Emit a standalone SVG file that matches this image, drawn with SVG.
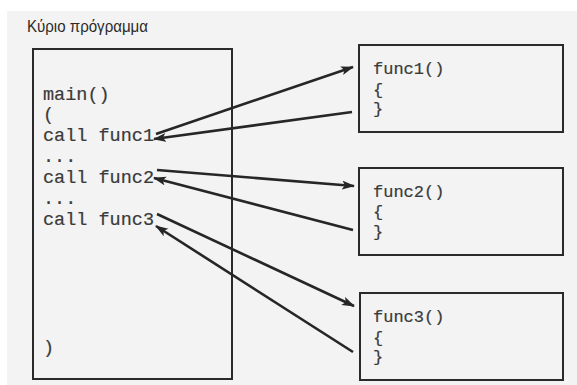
<svg xmlns="http://www.w3.org/2000/svg" width="577" height="385" viewBox="0 0 577 385">
  <style>
    .box { fill: none; stroke: #2a2a2a; stroke-width: 2; }
    .code { font-family: "Liberation Mono", "Courier New", monospace; fill: #3a3a3a; stroke: #3a3a3a; stroke-width: 0.2; }
    .main { font-size: 18.5px; }
    .fn { font-size: 17px; }
    .title { font-family: "Liberation Sans", Arial, sans-serif; font-size: 16.5px; fill: #2a2a2a; }
    .conn { stroke: #262626; stroke-width: 2.6; fill: none; marker-end: url(#head); }
  </style>
  <defs>
    <marker id="head" markerUnits="userSpaceOnUse" markerWidth="14" markerHeight="10" refX="12" refY="4.5" orient="auto">
      <path d="M0,0 L13,4.5 L0,9 L3,4.5 z" fill="#262626"/>
    </marker>
  </defs>

  <!-- page background -->
  <rect x="0" y="0" width="577" height="385" fill="#ffffff"/>
  <rect x="7" y="11" width="570" height="374" fill="#f3f3f3"/>

  <text class="title" x="27" y="32" textLength="121" lengthAdjust="spacingAndGlyphs">Κύριο πρόγραμμα</text>

  <!-- main program -->
  <g id="main">
    <rect class="box" x="33" y="49" width="199" height="330"/>
    <text class="code main" x="43" y="100">main()</text>
    <text class="code main" x="43" y="120">(</text>
    <text class="code main" x="43" y="141">call func1</text>
    <text class="code main" x="43" y="162">...</text>
    <text class="code main" x="43" y="183">call func2</text>
    <text class="code main" x="43" y="204">...</text>
    <text class="code main" x="43" y="225">call func3</text>
    <text class="code main" x="43" y="353">)</text>
  </g>

  <!-- called functions -->
  <g id="func1">
    <rect class="box" x="359" y="45" width="204" height="87"/>
    <text class="code fn" x="373" y="74">func1()</text>
    <text class="code fn" x="373" y="95">{</text>
    <text class="code fn" x="373" y="114">}</text>
  </g>
  <g id="func2">
    <rect class="box" x="359" y="168" width="204" height="87"/>
    <text class="code fn" x="373" y="197">func2()</text>
    <text class="code fn" x="373" y="217">{</text>
    <text class="code fn" x="373" y="237">}</text>
  </g>
  <g id="func3">
    <rect class="box" x="360" y="293" width="203" height="87"/>
    <text class="code fn" x="373" y="322">func3()</text>
    <text class="code fn" x="373" y="343">{</text>
    <text class="code fn" x="373" y="362">}</text>
  </g>

  <!-- calls and returns -->
  <g id="connectors">
    <line class="conn" x1="156" y1="134" x2="353" y2="67"/>
    <line class="conn" x1="352" y1="112" x2="154" y2="139"/>
    <line class="conn" x1="157" y1="170" x2="354" y2="186"/>
    <line class="conn" x1="353" y1="230" x2="154" y2="178"/>
    <line class="conn" x1="157" y1="214" x2="354" y2="306"/>
    <line class="conn" x1="353" y1="352" x2="156" y2="226"/>
  </g>
</svg>
